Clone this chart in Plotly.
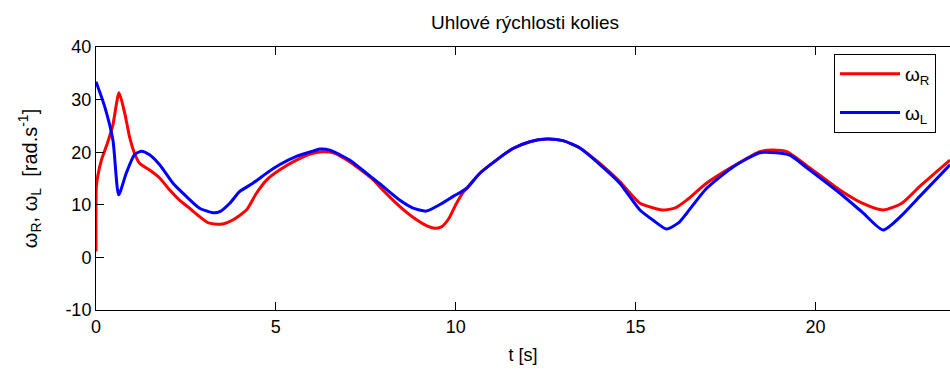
import plotly.graph_objects as go

# Time samples and wheel angular velocities
t_R = [0, 0.01, 0.05, 0.15, 0.33, 0.47, 0.64, 0.8, 0.93, 1.07, 1.21, 1.49, 1.77, 2.05,
       2.32, 2.6, 2.88, 3.11, 3.35, 3.55, 3.8, 4.18, 4.46, 4.74, 5.1, 5.57, 6.03, 6.3,
       6.6, 7.05, 7.7, 7.89, 8.44, 8.9, 9.2, 9.4, 9.6, 9.8, 10.0, 10.2, 10.4, 10.67, 11.13,
       11.59, 12.06, 12.52, 12.98, 13.45, 14.0, 14.56, 15.12, 15.5, 15.77, 16.1, 16.42,
       16.97, 17.71, 18.45, 18.82, 19.2, 19.75, 20.68, 21.3, 21.88, 22.4, 22.9, 23.74]
omega_R = [1.1, 13.5, 15.5, 18.5, 22.0, 25.2, 31.3, 27.4, 23.0, 19.8, 17.9, 16.6, 15.1, 12.8,
           10.9, 9.35, 7.75, 6.6, 6.3, 6.4, 7.1, 9.0, 12.2, 14.7, 16.6, 18.5, 19.8, 20.1,
           19.9, 18.2, 14.8, 13.4, 9.7, 7.2, 6.0, 5.55, 5.8, 7.3, 10.0, 12.3, 13.9, 16.0, 18.5,
           20.7, 22.0, 22.5, 22.2, 20.8, 17.9, 14.4, 10.3, 9.4, 9.0, 9.4, 10.9,
           14.1, 17.3, 20.1, 20.4, 20.1, 17.5, 12.8, 10.3, 9.0, 10.3, 13.5, 18.5]

t_L = [0, 0.24, 0.47, 0.63, 0.84, 1.07, 1.26, 1.49, 1.77, 2.14, 2.51, 2.88, 3.25, 3.44,
       3.72, 3.99, 4.36, 4.74, 5.1, 5.57, 6.03, 6.22, 6.5, 7.05, 7.7, 7.89, 8.44, 8.8,
       9.18, 9.55, 9.93, 10.3, 10.67, 11.13, 11.59, 12.06, 12.52, 12.98, 13.45, 14.0,
       14.56, 15.12, 15.5, 15.86, 16.2, 16.42, 16.97, 17.71, 18.45, 18.92, 19.3, 19.75,
       20.68, 21.3, 21.88, 22.4, 22.9, 23.74]
omega_L = [33.4, 28.7, 22.3, 11.9, 16.0, 19.5, 20.2, 19.5, 17.6, 14.1, 11.6, 9.35, 8.5, 8.7,
           10.3, 12.5, 14.1, 16.0, 17.6, 19.2, 20.2, 20.6, 20.4, 18.5, 15.0, 14.0, 10.9, 9.4,
           8.8, 10.0, 11.6, 13.1, 16.0, 18.5, 20.7, 22.0, 22.5, 22.2, 20.8, 17.7,
           14.1, 9.0, 7.0, 5.4, 6.6, 8.4, 13.1, 17.2, 19.9, 19.9, 19.4, 17.1,
           12.2, 8.6, 5.2, 8.0, 11.6, 17.6]

x_ticks = [0, 5, 10, 15, 20]
y_ticks = [-10, 0, 10, 20, 30, 40]

FONT = "Liberation Sans, Arial, sans-serif"

fig = go.Figure()
fig.add_trace(go.Scatter(x=t_R, y=omega_R, mode="lines", name="ω<sub>R</sub>",
                         legendgroup="R",
                         line=dict(color="#ff0000", width=3, shape="spline", smoothing=0.6)))
fig.add_trace(go.Scatter(x=t_L, y=omega_L, mode="lines", name="ω<sub>L</sub>",
                         legendgroup="L",
                         line=dict(color="#0000ff", width=3, shape="spline", smoothing=0.6)))

W, H = 950, 370
L, R, T, B = 96, 0, 47, 60
PW, PH = W - L - R, H - T - B
fig.update_layout(
    width=W, height=H,
    margin=dict(l=L, r=R, t=T, b=B),
    paper_bgcolor="white", plot_bgcolor="white",
    font=dict(family=FONT, size=17, color="black"),
    title=dict(text="Uhlové rýchlosti kolies", x=(525 - L) / PW, xref="paper",
               xanchor="center", y=1 - 22 / H, yanchor="middle",
               font=dict(family=FONT, size=19, color="black")),
    showlegend=True,
    legend=dict(x=(834 - L) / PW, y=1 - (54 - T) / PH,
                xanchor="left", yanchor="top",
                bordercolor="black", borderwidth=1, bgcolor="white",
                font=dict(family=FONT, size=19, color="black"),
                tracegroupgap=11, itemwidth=60),
    xaxis=dict(range=[0, 23.74], tickvals=x_ticks, ticks="inside", ticklen=8,
               tickcolor="black", showline=True, linecolor="black", linewidth=1,
               mirror="ticks", showgrid=False, zeroline=False,
               tickfont=dict(family=FONT, size=18, color="black"),
               title=dict(text="t [s]", standoff=12,
                          font=dict(family=FONT, size=18, color="black"))),
    yaxis=dict(range=[-10, 40], tickvals=y_ticks, ticktext=[str(v) for v in y_ticks],
               ticks="inside", ticklen=8,
               tickcolor="black", showline=True, linecolor="black", linewidth=1,
               showgrid=False, zeroline=False,
               tickfont=dict(family=FONT, size=18, color="black"),
               title=dict(text="ω<sub>R</sub>, ω<sub>L</sub>  [rad.s<sup>-1</sup>]", standoff=22,
                          font=dict(family=FONT, size=20, color="black"))),
)

# remove the default page margin so the figure fills the 950x370 window exactly
fig.write_html("out.html",
               config={"displayModeBar": False},
               post_script="document.body.style.margin='0';"
                           "document.body.style.overflow='hidden';")
